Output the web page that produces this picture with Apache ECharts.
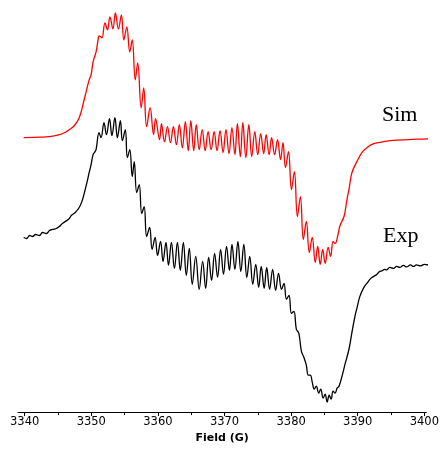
<!DOCTYPE html>
<html>
<head>
<meta charset="utf-8">
<script src="https://cdn.jsdelivr.net/npm/echarts@6/dist/echarts.min.js"></script>
<style>
  html, body { margin: 0; padding: 0; background: #ffffff; }
  #chart { width: 442px; height: 449px; }
</style>
</head>
<body>
<div id="chart"></div>
<script>
// DATA

// simulated spectrum: field (G) and signal (arb. units)
const simField = [
  3339.85, 3342.23, 3343.72, 3345.21, 3345.96, 3346.70, 3347.44, 3348.19, 3348.93, 3349.68,
  3349.97, 3350.27, 3350.72, 3351.02, 3351.17, 3351.46, 3351.61, 3352.06, 3352.43, 3352.80,
  3353.25, 3353.62, 3354.07, 3354.52, 3354.89, 3355.33, 3355.78, 3356.15, 3356.60, 3356.97,
  3357.49, 3357.87, 3358.31, 3358.83, 3359.35, 3359.65, 3360.25, 3360.54, 3360.99, 3361.44,
  3361.88, 3362.33, 3362.78, 3363.22, 3363.67, 3364.12, 3364.56, 3364.94, 3365.38, 3365.76,
  3366.20, 3366.65, 3367.10, 3367.54, 3367.99, 3368.44, 3368.88, 3369.33, 3369.78, 3370.22,
  3370.67, 3371.11, 3371.56, 3371.93, 3372.38, 3372.75, 3373.20, 3373.65, 3374.09, 3374.54,
  3374.99, 3375.43, 3375.88, 3376.25, 3376.70, 3377.07, 3377.52, 3377.96, 3378.41, 3378.78,
  3379.15, 3379.60, 3380.05, 3380.49, 3380.94, 3381.39, 3381.83, 3382.28, 3382.73, 3383.17,
  3383.62, 3383.99, 3384.37, 3384.74, 3385.11, 3385.56, 3385.93, 3386.30, 3386.60, 3387.04,
  3387.34, 3387.94, 3388.38, 3388.68, 3389.13, 3389.87, 3390.62, 3391.36, 3392.40, 3393.89,
  3395.83, 3398.81, 3401.78
];
const simSignal = [
  0, 0.5, 1, 3, 5, 8, 12, 20, 38, 58,
  63, 76, 86, 98, 102, 101, 100, 115, 108, 121,
  109, 125, 109, 123, 98, 111, 86, 98, 58, 75,
  30, 50, 11, 30, 3, 19, -2, 14, -4, 11,
  -5, 11, -7, 13, -10, 16, -13, 17, -13, 13,
  -12, 8, -13, 6, -12, 6, -13, 7, -15, 8,
  -16, 10, -17, 14, -19, 15, -20, 13, -19, 6,
  -17, 4, -16, 3, -17, 0, -17, -2, -22, -5,
  -30, -14, -52, -34, -79, -59, -102, -84, -115, -100,
  -125, -109, -127, -112, -126, -110, -119, -104, -106, -97,
  -88, -79, -62, -52, -35, -24, -15, -10, -6, -4,
  -2.5, -1.5, -1
];

// experimental spectrum
const expField = [
  3339.85, 3340.30, 3340.74, 3341.19, 3341.64, 3342.23, 3342.68, 3343.28, 3343.72, 3344.17,
  3344.76, 3345.21, 3345.66, 3346.10, 3346.70, 3347.00, 3347.59, 3348.19, 3348.64, 3348.93,
  3349.38, 3349.68, 3349.97, 3350.27, 3350.57, 3350.72, 3351.17, 3351.46, 3351.91, 3352.28,
  3352.73, 3353.10, 3353.55, 3353.92, 3354.37, 3354.67, 3355.11, 3355.41, 3355.78, 3356.15,
  3356.45, 3356.82, 3357.20, 3357.57, 3357.94, 3358.31, 3358.76, 3359.13, 3359.58, 3359.95,
  3360.40, 3360.77, 3361.21, 3361.59, 3362.03, 3362.48, 3362.93, 3363.37, 3363.82, 3364.27,
  3364.71, 3365.16, 3365.68, 3366.20, 3366.72, 3367.17, 3367.62, 3368.06, 3368.51, 3368.96,
  3369.41, 3369.85, 3370.30, 3370.74, 3371.12, 3371.56, 3372.01, 3372.45, 3372.90, 3373.35,
  3373.79, 3374.24, 3374.69, 3375.13, 3375.51, 3375.95, 3376.33, 3376.77, 3377.22, 3377.67,
  3378.11, 3378.56, 3378.93, 3379.30, 3379.68, 3380.05, 3380.42, 3380.79, 3381.16, 3381.54,
  3381.91, 3382.28, 3382.58, 3382.88, 3383.17, 3383.47, 3383.77, 3384.14, 3384.44, 3384.81,
  3385.11, 3385.41, 3385.71, 3386.00, 3386.30, 3386.60, 3386.90, 3387.19, 3387.64, 3388.09,
  3388.68, 3389.13, 3389.58, 3389.87, 3390.32, 3390.92, 3391.36, 3391.96, 3392.40, 3392.85,
  3393.30, 3393.60, 3394.04, 3394.34, 3394.79, 3395.38, 3395.83, 3396.28, 3396.87, 3397.32,
  3397.92, 3398.36, 3398.81, 3399.40, 3400.00, 3400.74
];
const expSignal = [
  0, -1, 2, 1, 3, 2, 5, 4, 7, 8,
  9, 11, 14, 16, 19, 22, 25, 30, 37, 44,
  56, 65, 73, 83, 86, 88, 105, 100, 115, 103,
  119, 102, 120, 100, 117, 97, 108, 80, 88, 61,
  76, 45, 53, 24, 31, 1, 10, -12, 0, -18,
  -4, -24, -5, -28, -5, -31, -5, -33, -5, -38,
  -11, -47, -19, -52, -24, -51, -20, -43, -16, -40,
  -12, -37, -9, -33, -7, -32, -4, -34, -7, -40,
  -19, -47, -27, -50, -29, -51, -30, -52, -32, -53,
  -36, -52, -46, -62, -58, -76, -74, -92, -96, -114,
  -120, -128, -138, -138, -145, -152, -149, -156, -152, -161,
  -157, -165, -158, -162, -154, -156, -151, -149, -139, -127,
  -112, -95, -79, -71, -59, -50, -46, -41, -39, -37,
  -34, -33.5, -32, -32.5, -30, -31, -29, -30, -28, -29.5,
  -27.5, -29, -27.5, -28.5, -27, -28
];

// vertical shift of the Sim trace above the Exp trace
const SIM_OFFSET = 100;

const majorTicks = [3340, 3350, 3360, 3370, 3380, 3390, 3400];
const minorTicks = [3345, 3355, 3365, 3375, 3385, 3395];

// build series
var simData = [];
for (let i = 0; i < simField.length; i++) {
  simData.push([simField[i], simSignal[i] + SIM_OFFSET]);
}
var expData = [];
for (let i = 0; i < expField.length; i++) {
  expData.push([expField[i], expSignal[i]]);
}

// CHART
var chart = echarts.init(document.getElementById("chart"), null, { renderer: "canvas" });

chart.setOption({
  animation: false,
  backgroundColor: "#ffffff",
  grid: { left: 18, right: 12, top: 0, bottom: 36 },
  xAxis: [{
    type: "value",
    min: 3339,
    max: 3400.3,
    name: "Field (G)",
    nameLocation: "middle",
    nameGap: 15,
    nameTextStyle: {
      fontFamily: "DejaVu Sans",
      fontWeight: "bold",
      fontSize: 11,
      color: "#000"
    },
    axisLine: { onZero: false, lineStyle: { color: "#000", width: 1 } },
    axisTick: {
      customValues: majorTicks,
      length: 4,
      inside: false,
      lineStyle: { color: "#000" }
    },
    axisLabel: {
      customValues: majorTicks,
      margin: 4,
      fontFamily: "DejaVu Sans",
      fontSize: 11.5,
      color: "#000",
      formatter: function (v) { return String(v); }
    },
    splitLine: { show: false }
  }, {
    type: "value",
    min: 3339,
    max: 3400.3,
    position: "bottom",
    axisLine: { show: false, onZero: false },
    axisTick: {
      customValues: minorTicks,
      length: 3,
      lineStyle: { color: "#000" }
    },
    axisLabel: { show: false },
    splitLine: { show: false }
  }],
  yAxis: {
    type: "value",
    min: -175,
    max: 238,
    show: false
  },
  graphic: [
    {
      type: "text",
      left: 382,
      top: 104,
      style: { text: "Sim", font: "22px 'Liberation Serif'", fill: "#000" }
    },
    {
      type: "text",
      left: 383,
      top: 225,
      style: { text: "Exp", font: "22px 'Liberation Serif'", fill: "#000" }
    }
  ],
  series: [
    {
      name: "Sim",
      type: "line",
      data: simData,
      showSymbol: false,
      smooth: 0.4,
      clip: false,
      lineStyle: { color: "#ff0000", width: 1.3 }
    },
    {
      name: "Exp",
      type: "line",
      data: expData,
      showSymbol: false,
      smooth: 0.4,
      clip: false,
      lineStyle: { color: "#000000", width: 1.3 }
    }
  ]
});
</script>
</body>
</html>
